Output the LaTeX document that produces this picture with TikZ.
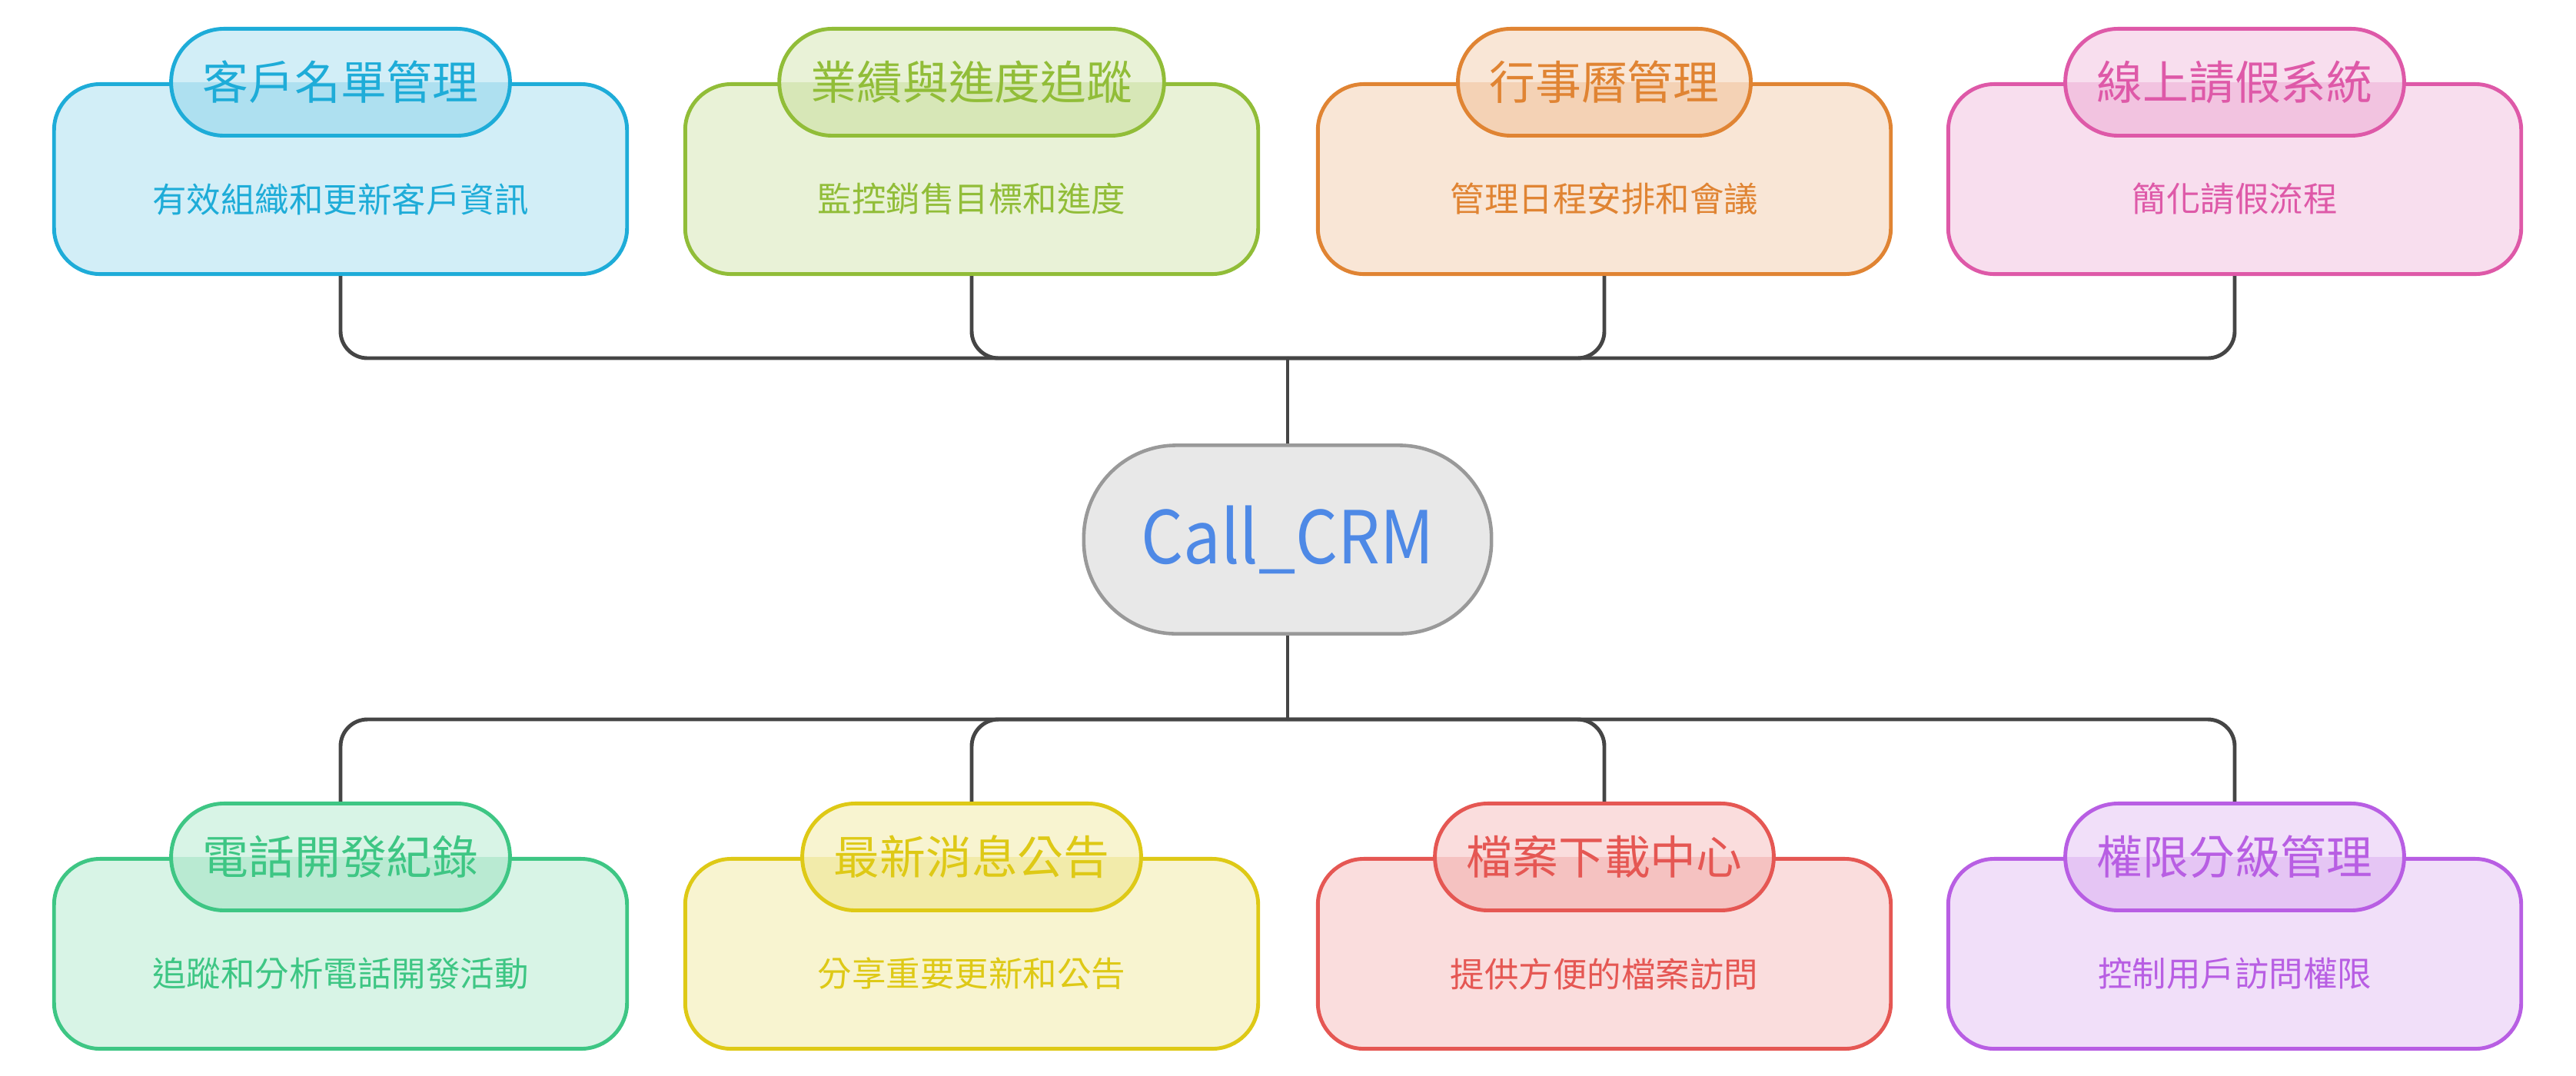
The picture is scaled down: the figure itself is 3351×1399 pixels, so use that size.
\documentclass[tikz,border=0pt]{standalone}
\usepackage{fontspec}
\setmainfont{Noto Sans CJK TC}
\newfontfamily\hubfont[FakeStretch=0.91]{Noto Sans CJK TC}
\definecolor{cblue}{RGB}{30,172,216}
\definecolor{cgreen}{RGB}{145,189,56}
\definecolor{corange}{RGB}{224,132,51}
\definecolor{cpink}{RGB}{222,89,168}
\definecolor{cmint}{RGB}{62,198,132}
\definecolor{cyellow}{RGB}{222,201,22}
\definecolor{cred}{RGB}{229,87,83}
\definecolor{cpurple}{RGB}{184,94,227}
\definecolor{hubfill}{RGB}{232,232,232}
\definecolor{hubline}{RGB}{153,153,153}
\definecolor{hubtext}{RGB}{78,137,230}
\definecolor{linkgray}{RGB}{69,69,69}
\usetikzlibrary{positioning}

\begin{document}
\begin{tikzpicture}[x=0.01cm,y=-0.01cm,
    every node/.style={font=\fontsize{17}{20}\selectfont},
    card/.style={draw=#1,fill=#1!20,line width=1.4pt,rounded corners=0.6cm,
        minimum width=7.45cm,minimum height=2.47cm},
    pill/.style={draw=#1,fill=#1!20,text=#1,
        line width=1.4pt,rounded corners=0.69cm,minimum height=1.39cm,inner xsep=0.41cm,
        path picture={\fill[#1,fill opacity=0.2,sharp corners] (path picture bounding box.west)
            rectangle (path picture bounding box.south east);}},
    desc/.style={text=#1,font=\fontsize{12.65}{15}\selectfont},
    hub/.style={draw=hubline,fill=hubfill,line width=1.3pt,rounded corners=1.2cm,
        minimum width=5.3cm,minimum height=2.45cm,text=hubtext,
        font=\hubfont\fontsize{27}{30}\selectfont},
    link/.style={draw=linkgray,line width=1.4pt,rounded corners=0.35cm}
    ]
    \useasboundingbox (0,0) rectangle (3351,1399);

    \node (crm) [hub] at (1675,702) {Call\_CRM};

    % the top row
    \node (c1) [card=cblue] at (443,233) {};
    \node (d1) [desc=cblue] at ([yshift=-0.26cm]c1.center) {有效組織和更新客戶資訊};
    \node (t1) [pill=cblue] at (c1.north) {客戶名單管理};
    \node (c2) [card=cgreen] at (1264,233) {};
    \node (d2) [desc=cgreen] at ([yshift=-0.26cm]c2.center) {監控銷售目標和進度};
    \node (t2) [pill=cgreen] at (c2.north) {業績與進度追蹤};
    \node (c3) [card=corange] at (2087,233) {};
    \node (d3) [desc=corange] at ([yshift=-0.26cm]c3.center) {管理日程安排和會議};
    \node (t3) [pill=corange] at (c3.north) {行事曆管理};
    \node (c4) [card=cpink] at (2907,233) {};
    \node (d4) [desc=cpink] at ([yshift=-0.26cm]c4.center) {簡化請假流程};
    \node (t4) [pill=cpink] at (c4.north) {線上請假系統};

    % the bottom row
    \node (c5) [card=cmint] at (443,1241) {};
    \node (d5) [desc=cmint] at ([yshift=-0.26cm]c5.center) {追蹤和分析電話開發活動};
    \node (t5) [pill=cmint] at (c5.north) {電話開發紀錄};
    \node (c6) [card=cyellow] at (1264,1241) {};
    \node (d6) [desc=cyellow] at ([yshift=-0.26cm]c6.center) {分享重要更新和公告};
    \node (t6) [pill=cyellow] at (c6.north) {最新消息公告};
    \node (c7) [card=cred] at (2087,1241) {};
    \node (d7) [desc=cred] at ([yshift=-0.26cm]c7.center) {提供方便的檔案訪問};
    \node (t7) [pill=cred] at (c7.north) {檔案下載中心};
    \node (c8) [card=cpurple] at (2907,1241) {};
    \node (d8) [desc=cpurple] at ([yshift=-0.26cm]c8.center) {控制用戶訪問權限};
    \node (t8) [pill=cpurple] at (c8.north) {權限分級管理};

    % the edges
    \coordinate (tbus) at (1675,466);
    \coordinate (bbus) at (1675,936);
    \draw[link] (crm.north) -- (tbus);
    \draw[link] (c1.south) |- (tbus);
    \draw[link] (c2.south) |- (tbus);
    \draw[link] (c3.south) |- (tbus);
    \draw[link] (c4.south) |- (tbus);
    \draw[link] (crm.south) -- (bbus);
    \draw[link] (t5.north) |- (bbus);
    \draw[link] (t6.north) |- (bbus);
    \draw[link] (t7.north) |- (bbus);
    \draw[link] (t8.north) |- (bbus);
\end{tikzpicture}
\end{document}
